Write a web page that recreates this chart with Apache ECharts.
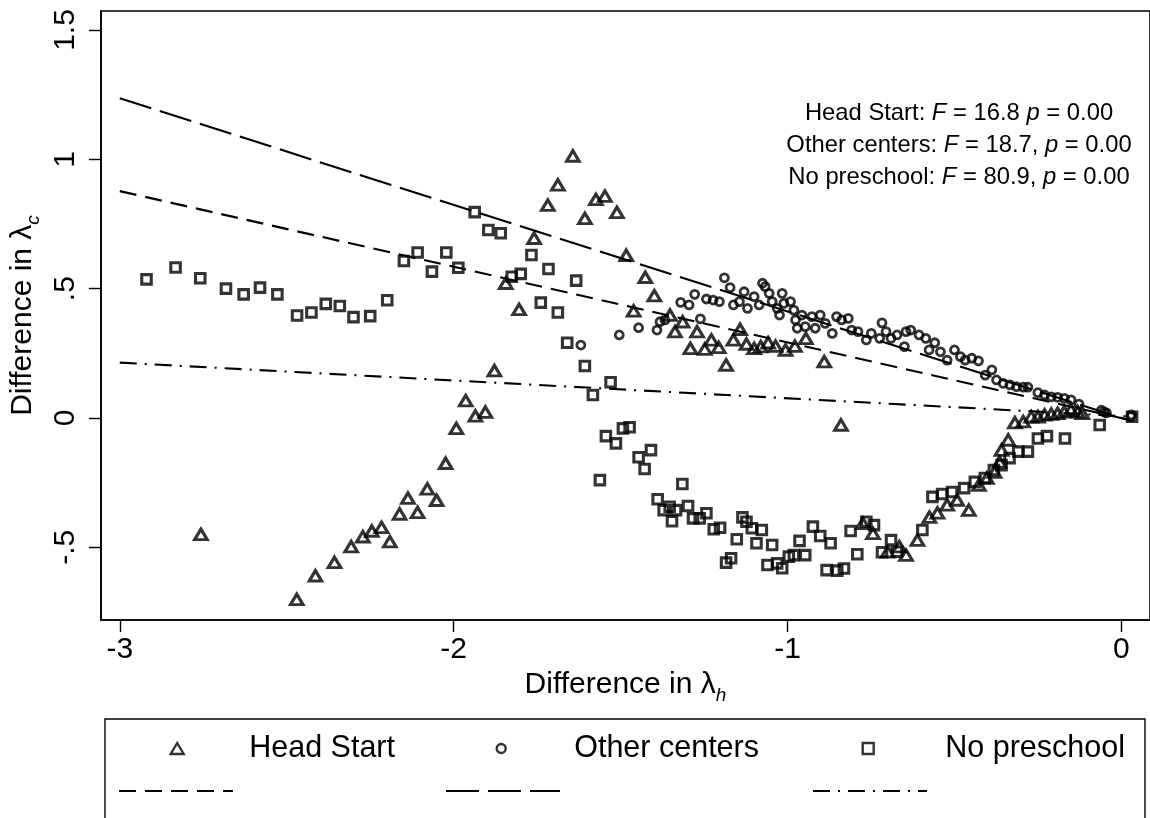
<!DOCTYPE html>
<html>
<head>
<meta charset="utf-8">
<script src="https://cdn.jsdelivr.net/npm/echarts@6/dist/echarts.min.js"></script>
<style>
  html, body { margin: 0; padding: 0; background: #fff; }
  #chart { width: 1150px; height: 818px; }
</style>
</head>
<body>
<div id="chart"></div>
<script>
// points: [difference in lambda_h, difference in lambda_c]
var headStart = [
  [-2.757, -0.450], [-2.470, -0.701], [-2.414, -0.610], [-2.357, -0.558], [-2.307, -0.497],
  [-2.272, -0.459], [-2.245, -0.437], [-2.216, -0.423], [-2.191, -0.478], [-2.162, -0.371],
  [-2.137, -0.310], [-2.108, -0.365], [-2.079, -0.274], [-2.051, -0.318], [-2.024, -0.175],
  [-1.992, -0.040], [-1.964, 0.067], [-1.935, 0.008], [-1.905, 0.023], [-1.878, 0.183],
  [-1.844, 0.521], [-1.804, 0.420], [-1.759, 0.695], [-1.718, 0.823], [-1.688, 0.901],
  [-1.643, 1.013], [-1.607, 0.772], [-1.574, 0.845], [-1.547, 0.858], [-1.511, 0.795],
  [-1.483, 0.629], [-1.461, 0.414], [-1.426, 0.544], [-1.399, 0.473], [-1.352, 0.398],
  [-1.337, 0.334], [-1.314, 0.372], [-1.291, 0.269], [-1.271, 0.334], [-1.248, 0.266],
  [-1.228, 0.302], [-1.206, 0.273], [-1.184, 0.205], [-1.162, 0.302], [-1.142, 0.343],
  [-1.123, 0.286], [-1.100, 0.269], [-1.080, 0.276], [-1.058, 0.291], [-1.036, 0.278],
  [-1.006, 0.263], [-0.978, 0.278], [-0.945, 0.308], [-0.890, 0.218], [-0.840, -0.027],
  [-0.774, -0.407], [-0.744, -0.446], [-0.700, -0.517], [-0.665, -0.497], [-0.645, -0.530],
  [-0.611, -0.472], [-0.575, -0.383], [-0.551, -0.367], [-0.522, -0.336], [-0.492, -0.317],
  [-0.457, -0.356], [-0.427, -0.259], [-0.403, -0.232], [-0.380, -0.209], [-0.365, -0.170],
  [-0.359, -0.124], [-0.339, -0.085], [-0.319, -0.018], [-0.294, -0.014], [-0.270, 0.005],
  [-0.250, 0.005], [-0.230, 0.012], [-0.210, 0.015], [-0.191, 0.018], [-0.171, 0.024],
  [-0.151, 0.031], [-0.131, 0.024], [-0.117, 0.018]
];

var otherCenters = [
  [-1.619, 0.282], [-1.504, 0.321], [-1.446, 0.349], [-1.391, 0.340], [-1.382, 0.372],
  [-1.367, 0.379], [-1.320, 0.447], [-1.295, 0.437], [-1.278, 0.478], [-1.261, 0.383],
  [-1.243, 0.460], [-1.223, 0.456], [-1.204, 0.450], [-1.189, 0.542], [-1.172, 0.504],
  [-1.162, 0.437], [-1.144, 0.450], [-1.130, 0.488], [-1.120, 0.424], [-1.100, 0.469],
  [-1.085, 0.437], [-1.075, 0.521], [-1.067, 0.508], [-1.055, 0.482], [-1.046, 0.450],
  [-1.031, 0.424], [-1.024, 0.398], [-1.016, 0.482], [-1.011, 0.443], [-0.991, 0.450],
  [-0.981, 0.417], [-0.976, 0.379], [-0.971, 0.347], [-0.957, 0.398], [-0.947, 0.353],
  [-0.927, 0.392], [-0.917, 0.347], [-0.902, 0.398], [-0.887, 0.366], [-0.866, 0.327],
  [-0.853, 0.392], [-0.838, 0.379], [-0.818, 0.385], [-0.808, 0.340], [-0.789, 0.334],
  [-0.764, 0.302], [-0.749, 0.327], [-0.724, 0.308], [-0.717, 0.368], [-0.705, 0.334],
  [-0.690, 0.308], [-0.672, 0.321], [-0.650, 0.276], [-0.645, 0.334], [-0.631, 0.340],
  [-0.606, 0.321], [-0.586, 0.308], [-0.576, 0.263], [-0.559, 0.291], [-0.542, 0.256],
  [-0.522, 0.224], [-0.500, 0.263], [-0.482, 0.237], [-0.468, 0.224], [-0.448, 0.231],
  [-0.428, 0.221], [-0.408, 0.166], [-0.388, 0.186], [-0.374, 0.147], [-0.354, 0.134],
  [-0.334, 0.128], [-0.314, 0.121], [-0.294, 0.119], [-0.280, 0.119], [-0.250, 0.098],
  [-0.230, 0.089], [-0.210, 0.082], [-0.191, 0.080], [-0.171, 0.076], [-0.151, 0.070],
  [-0.127, 0.054], [-0.060, 0.030], [-0.052, 0.024], [-0.045, 0.020], [0.030, 0.012],
  [0.028, 0.005]
];

var noPreschool = [
  [-2.920, 0.536], [-2.833, 0.582], [-2.759, 0.540], [-2.682, 0.500], [-2.629, 0.478],
  [-2.580, 0.504], [-2.528, 0.478], [-2.469, 0.396], [-2.426, 0.408], [-2.383, 0.441],
  [-2.341, 0.433], [-2.300, 0.390], [-2.250, 0.394], [-2.199, 0.455], [-2.149, 0.607],
  [-2.108, 0.640], [-2.065, 0.566], [-2.022, 0.640], [-1.986, 0.581], [-1.937, 0.796],
  [-1.896, 0.727], [-1.859, 0.714], [-1.826, 0.546], [-1.799, 0.557], [-1.767, 0.630],
  [-1.739, 0.446], [-1.716, 0.576], [-1.688, 0.408], [-1.660, 0.291], [-1.633, 0.531],
  [-1.607, 0.201], [-1.583, 0.089], [-1.562, -0.240], [-1.544, -0.070], [-1.530, 0.138],
  [-1.514, -0.098], [-1.493, -0.040], [-1.473, -0.036], [-1.446, -0.152], [-1.428, -0.197],
  [-1.409, -0.124], [-1.389, -0.314], [-1.371, -0.356], [-1.353, -0.343], [-1.346, -0.399],
  [-1.334, -0.356], [-1.315, -0.255], [-1.298, -0.340], [-1.283, -0.388], [-1.263, -0.388],
  [-1.243, -0.368], [-1.221, -0.430], [-1.202, -0.424], [-1.184, -0.559], [-1.169, -0.542],
  [-1.152, -0.469], [-1.135, -0.384], [-1.123, -0.401], [-1.107, -0.426], [-1.093, -0.484],
  [-1.077, -0.433], [-1.060, -0.568], [-1.046, -0.491], [-1.031, -0.562], [-1.016, -0.581],
  [-0.996, -0.536], [-0.981, -0.530], [-0.964, -0.475], [-0.947, -0.530], [-0.924, -0.420],
  [-0.902, -0.456], [-0.883, -0.588], [-0.871, -0.484], [-0.851, -0.590], [-0.831, -0.582],
  [-0.811, -0.437], [-0.791, -0.527], [-0.764, -0.401], [-0.741, -0.414], [-0.717, -0.519],
  [-0.690, -0.472], [-0.672, -0.517], [-0.596, -0.433], [-0.566, -0.305], [-0.537, -0.294],
  [-0.507, -0.286], [-0.471, -0.271], [-0.439, -0.247], [-0.409, -0.232], [-0.382, -0.201],
  [-0.359, -0.182], [-0.335, -0.155], [-0.309, -0.130], [-0.280, -0.130], [-0.250, -0.079],
  [-0.223, -0.070], [-0.169, -0.079], [-0.065, -0.027], [0.032, 0.005]
];

// fitted lines (end points)
var fitHeadStart = [[-3, 0.877], [0.02, -0.006]];
var fitOtherCenters = [[-3, 1.236], [0.02, -0.008]];
var fitNoPreschool = [[-3, 0.214], [0.02, 0.006]];

var xTicks = [-3, -2, -1, 0];
var xTickLabels = ['-3', '-2', '-1', '0'];
var yTicks = [-0.5, 0, 0.5, 1, 1.5];
var yTickLabels = ['-.5', '0', '.5', '1', '1.5'];

var statLines = [
  ['Head Start: ', '16.8 ', ''],
  ['Other centers: ', '18.7', ', '],
  ['No preschool: ', '80.9', ', ']
];

var FONT = '"Liberation Sans", Arial, Helvetica, sans-serif';

function tickLabel(ticks, labels) {
  return function (v) {
    for (var i = 0; i < ticks.length; i++) {
      if (Math.abs(ticks[i] - v) < 1e-9) return labels[i];
    }
    return '';
  };
}

var chart = echarts.init(document.getElementById('chart'));

var hollow = { color: 'rgba(0,0,0,0)', borderColor: '#000', borderWidth: 3.1 };

// stats text block (top right)
var graphics = statLines.map(function (s, i) {
  return {
    type: 'text',
    x: 959,
    y: 113 + i * 32,
    style: {
      text: '{a|' + s[0] + '}{i|F}{a| = ' + s[1] + s[2] + '}{i|p}{a| = 0.00}',
      align: 'center',
      verticalAlign: 'middle',
      fill: '#000',
      rich: {
        a: { fontSize: 23.8, fontFamily: FONT, fill: '#000' },
        i: { fontSize: 23.8, fontFamily: FONT, fontStyle: 'italic', fill: '#000' }
      }
    }
  };
});
// legend frame
graphics.push({
  type: 'rect',
  shape: { x: 105, y: 719, width: 1040, height: 140 },
  style: { fill: 'none', stroke: '#000', lineWidth: 1.4 }
});

var legendText = { fontSize: 30.5, fontFamily: FONT, color: '#000' };
var legendMarker = { color: 'rgba(0,0,0,0)', borderColor: '#000', borderWidth: 2.4 };

var legends = [
  { data: ['Head Start'], left: 169.5, top: 733, itemWidth: 13, itemHeight: 11,
    textStyle: Object.assign({ padding: [0, 0, 0, 60.5] }, legendText) },
  { data: ['Other centers'], left: 495.5, top: 733, itemWidth: 9, itemHeight: 9,
    textStyle: Object.assign({ padding: [0, 0, 0, 63.5] }, legendText) },
  { data: ['No preschool'], left: 861.5, top: 733, itemWidth: 11, itemHeight: 11,
    textStyle: Object.assign({ padding: [0, 0, 0, 66.5] }, legendText) },
  { data: ['fit Head Start'], left: 118, top: 788, itemWidth: 114, itemHeight: 6,
    formatter: function () { return ''; }, textStyle: { fontSize: 2 } },
  { data: ['fit Other centers'], left: 445, top: 788, itemWidth: 114, itemHeight: 6,
    formatter: function () { return ''; }, textStyle: { fontSize: 2 } },
  { data: ['fit No preschool'], left: 812, top: 788, itemWidth: 114, itemHeight: 6,
    formatter: function () { return ''; }, textStyle: { fontSize: 2 } }
].map(function (l) {
  return Object.assign({
    orient: 'horizontal',
    padding: 0,
    selectedMode: false,
    itemStyle: legendMarker
  }, l);
});
// hide the little symbol line-series legends would draw
for (var k = 3; k < 6; k++) {
  legends[k].itemStyle = { color: 'rgba(0,0,0,0)', borderWidth: 0, opacity: 0 };
}

function fitLine(name, data, dash) {
  return {
    name: name,
    type: 'line',
    data: data,
    symbol: 'none',
    silent: true,
    z: 1,
    lineStyle: { color: '#000', width: 2.1, type: dash }
  };
}

var option = {
  animation: false,
  backgroundColor: '#fff',
  textStyle: { fontFamily: FONT, color: '#000' },
  grid: {
    left: 95, top: 11, width: 1060, height: 609,
    show: true, borderColor: '#000', borderWidth: 1.6,
    containLabel: false
  },
  legend: legends,
  graphic: graphics,
  xAxis: {
    type: 'value',
    min: -3.0566,
    max: 0.0857,
    name: '{a|Difference in λ}{s|h}',
    nameLocation: 'middle',
    nameGap: 45,
    nameTextStyle: {
      rich: {
        a: { fontSize: 30, fontFamily: FONT, color: '#000', lineHeight: 40 },
        s: { fontSize: 19, fontFamily: FONT, fontStyle: 'italic', color: '#000', lineHeight: 19, verticalAlign: 'bottom' }
      }
    },
    axisLine: { show: true, onZero: false, lineStyle: { color: '#000', width: 1.6 } },
    axisTick: { show: true, length: 12, customValues: xTicks, lineStyle: { color: '#000', width: 1.4 } },
    axisLabel: {
      customValues: xTicks, fontSize: 30, fontFamily: FONT, color: '#000', margin: 15,
      formatter: tickLabel(xTicks, xTickLabels)
    },
    splitLine: { show: false }
  },
  yAxis: {
    type: 'value',
    min: -0.7809,
    max: 1.5734,
    name: '{a|Difference in λ}{s|c}',
    nameLocation: 'middle',
    nameRotate: 90,
    nameGap: 49,
    nameTextStyle: {
      rich: {
        a: { fontSize: 30, fontFamily: FONT, color: '#000', lineHeight: 40 },
        s: { fontSize: 19, fontFamily: FONT, fontStyle: 'italic', color: '#000', lineHeight: 19, verticalAlign: 'bottom' }
      }
    },
    axisLine: { show: true, onZero: false, lineStyle: { color: '#000', width: 1.6 } },
    axisTick: { show: true, length: 12, customValues: yTicks, lineStyle: { color: '#000', width: 1.4 } },
    axisLabel: {
      customValues: yTicks, rotate: 90, fontSize: 30, fontFamily: FONT, color: '#000', margin: 20,
      formatter: tickLabel(yTicks, yTickLabels)
    },
    splitLine: { show: false }
  },
  series: [
    fitLine('fit Head Start', fitHeadStart, [17, 9]),
    fitLine('fit Other centers', fitOtherCenters, [33, 9]),
    fitLine('fit No preschool', fitNoPreschool, [17, 8, 2, 8]),
    {
      name: 'Head Start', type: 'scatter', data: headStart,
      symbol: 'triangle', symbolSize: [12.5, 10.5], itemStyle: hollow, z: 3
    },
    {
      name: 'Other centers', type: 'scatter', data: otherCenters,
      symbol: 'circle', symbolSize: 8, itemStyle: Object.assign({}, hollow, { borderWidth: 2.8 }), z: 3
    },
    {
      name: 'No preschool', type: 'scatter', data: noPreschool,
      symbol: 'rect', symbolSize: 9.5, itemStyle: hollow, z: 3
    }
  ]
};

chart.setOption(option);
</script>
</body>
</html>
